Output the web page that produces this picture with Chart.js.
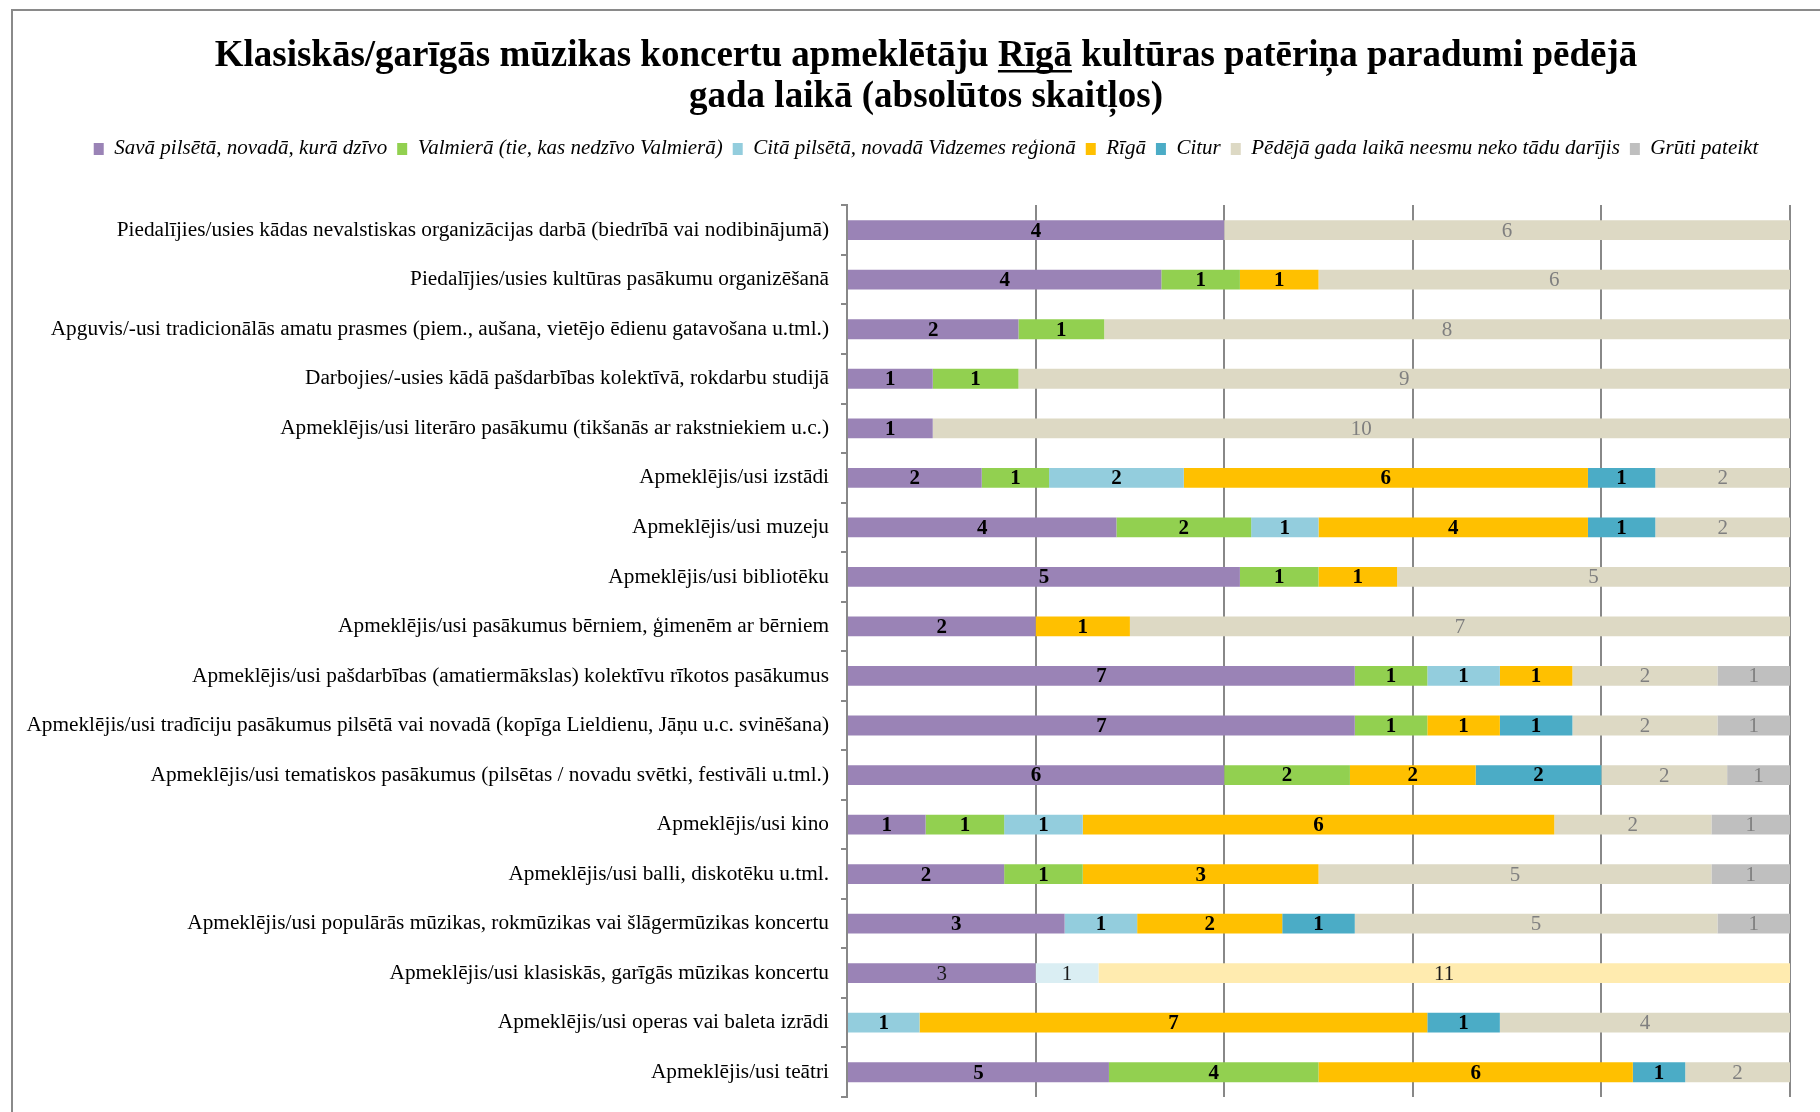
<!DOCTYPE html>
<html>
<head>
<meta charset="utf-8">
<script src="https://cdn.jsdelivr.net/npm/chart.js@4.4.1/dist/chart.umd.min.js"></script>
<style>
  html, body { margin: 0; padding: 0; background: #fff; }
  #wrap { position: relative; width: 1820px; height: 1112px; overflow: hidden; }
  #frame { position: absolute; left: 11px; top: 9px; width: 1900px; height: 1200px;
           border-top: 2px solid #8a8a8a; border-left: 2px solid #8a8a8a; }
  canvas { position: absolute; left: 0; top: 0; }
</style>
</head>
<body>
<div id="wrap">
  <div id="frame"></div>
  <canvas id="chart" width="1820" height="1112"></canvas>
</div>
<script>
// categories, top to bottom
const categories = [
    'Piedalījies/usies kādas nevalstiskas organizācijas darbā (biedrībā vai nodibinājumā)',
    'Piedalījies/usies kultūras pasākumu organizēšanā',
    'Apguvis/-usi tradicionālās amatu prasmes (piem., aušana, vietējo ēdienu gatavošana u.tml.)',
    'Darbojies/-usies kādā pašdarbības kolektīvā, rokdarbu studijā',
    'Apmeklējis/usi literāro pasākumu (tikšanās ar rakstniekiem u.c.)',
    'Apmeklējis/usi izstādi',
    'Apmeklējis/usi muzeju',
    'Apmeklējis/usi bibliotēku',
    'Apmeklējis/usi pasākumus bērniem, ģimenēm ar bērniem',
    'Apmeklējis/usi pašdarbības (amatiermākslas) kolektīvu rīkotos pasākumus',
    'Apmeklējis/usi tradīciju pasākumus pilsētā vai novadā (kopīga Lieldienu, Jāņu u.c. svinēšana)',
    'Apmeklējis/usi tematiskos pasākumus (pilsētas / novadu svētki, festivāli u.tml.)',
    'Apmeklējis/usi kino',
    'Apmeklējis/usi balli, diskotēku u.tml.',
    'Apmeklējis/usi populārās mūzikas, rokmūzikas vai šlāgermūzikas koncertu',
    'Apmeklējis/usi klasiskās, garīgās mūzikas koncertu',
    'Apmeklējis/usi operas vai baleta izrādi',
    'Apmeklējis/usi teātri'
];

const seriesNames = [
    'Savā pilsētā, novadā, kurā dzīvo',
    'Valmierā (tie, kas nedzīvo Valmierā)',
    'Citā pilsētā, novadā Vidzemes reģionā',
    'Rīgā',
    'Citur',
    'Pēdējā gada laikā neesmu neko tādu darījis',
    'Grūti pateikt'
];

// absolute counts per series (same order as categories)
const savaPilseta = [4, 4, 2, 1, 1, 2, 4, 5, 2, 7, 7, 6, 1, 2, 3, 3, 0, 5];
const valmiera    = [0, 1, 1, 1, 0, 1, 2, 1, 0, 1, 1, 2, 1, 1, 0, 0, 0, 4];
const citaPilseta = [0, 0, 0, 0, 0, 2, 1, 0, 0, 1, 0, 0, 1, 0, 1, 1, 1, 0];
const riga        = [0, 1, 0, 0, 0, 6, 4, 1, 1, 1, 1, 2, 6, 3, 2, 11, 7, 6];
const citur       = [0, 0, 0, 0, 0, 1, 1, 0, 0, 0, 1, 2, 0, 0, 1, 0, 1, 1];
const neesmu      = [6, 6, 8, 9, 10, 2, 2, 5, 7, 2, 2, 2, 2, 5, 5, 0, 4, 2];
const gruti       = [0, 0, 0, 0, 0, 0, 0, 0, 0, 1, 1, 1, 1, 1, 1, 0, 0, 0];

const counts = [savaPilseta, valmiera, citaPilseta, riga, citur, neesmu, gruti];

// the highlighted row (classical music concerts) uses pale colours
const highlightRow = 15;
const colors     = ['#9a83b6', '#92d050', '#93cddd', '#ffc000', '#4bacc6', '#ddd9c4', '#bfbfbf'];
const paleColors = ['#9a83b6', '#92d050', '#daeef3', '#ffebaf', '#4bacc6', '#ddd9c4', '#bfbfbf'];

const totals = categories.map((c, j) => counts.reduce((s, arr) => s + arr[j], 0));

const FONT = '"Liberation Serif", "Times New Roman", serif';
const TITLE_SIZE = 37;
const TITLE_LH = 1.1;
const TITLE_PAD = 36;
Chart.defaults.font.family = FONT;
Chart.defaults.color = '#000';

const datasets = seriesNames.map((name, i) => ({
    label: name,
    data: counts[i].map((v, j) => v / totals[j] * 100),
    backgroundColor: ctx => (ctx.dataIndex === highlightRow ? paleColors[i] : colors[i]),
    borderWidth: 0,
    barPercentage: 0.4,
    categoryPercentage: 1
}));

// value labels in the middle of each segment
const valueLabels = {
    id: 'valueLabels',
    afterDatasetsDraw(chart) {
        const ctx = chart.ctx;
        ctx.save();
        ctx.textAlign = 'center';
        ctx.textBaseline = 'middle';
        chart.data.datasets.forEach((ds, i) => {
            const meta = chart.getDatasetMeta(i);
            meta.data.forEach((bar, j) => {
                const v = counts[i][j];
                if (!v) return;
                if (j === highlightRow) {
                    ctx.font = '21px ' + FONT;
                    ctx.fillStyle = '#1a1a1a';
                } else if (i >= 5) {
                    ctx.font = '21px ' + FONT;
                    ctx.fillStyle = '#7f7f7f';
                } else {
                    ctx.font = 'bold 21px ' + FONT;
                    ctx.fillStyle = '#000';
                }
                ctx.fillText(String(v), (bar.x + bar.base) / 2, bar.y + 1);
            });
        });
        ctx.restore();
    }
};

// underline the word "Rīgā" in the first title line
const titleUnderline = {
    id: 'titleUnderline',
    afterDraw(chart) {
        const tb = chart.titleBlock;
        const lines = chart.options.plugins.title.text;
        const ctx = chart.ctx;
        ctx.save();
        ctx.font = 'bold ' + TITLE_SIZE + 'px ' + FONT;
        const full = ctx.measureText(lines[0]).width;
        const before = 'Klasiskās/garīgās mūzikas koncertu apmeklētāju ';
        const cx = (tb.left + tb.right) / 2;
        const x0 = cx - full / 2 + ctx.measureText(before).width;
        const w = ctx.measureText('Rīgā').width;
        const lh = TITLE_SIZE * TITLE_LH;
        const y = tb.top + TITLE_PAD + lh / 2 + 15;
        ctx.strokeStyle = '#000';
        ctx.lineWidth = 2.5;
        ctx.beginPath();
        ctx.moveTo(x0, y);
        ctx.lineTo(x0 + w, y);
        ctx.stroke();
        ctx.restore();
    }
};

new Chart(document.getElementById('chart'), {
    type: 'bar',
    data: { labels: categories, datasets: datasets },
    plugins: [valueLabels, titleUnderline],
    options: {
        indexAxis: 'y',
        responsive: false,
        animation: false,
        layout: { padding: { left: 62, right: 30, top: 0, bottom: 15 } },
        plugins: {
            title: {
                display: true,
                text: ['Klasiskās/garīgās mūzikas koncertu apmeklētāju Rīgā kultūras patēriņa paradumi pēdējā',
                       'gada laikā (absolūtos skaitļos)'],
                font: { size: TITLE_SIZE, weight: 'bold', lineHeight: TITLE_LH },
                color: '#000',
                padding: { top: TITLE_PAD, bottom: 11 }
            },
            legend: {
                position: 'top',
                labels: {
                    boxWidth: 10,
                    boxHeight: 12,
                    padding: 10,
                    color: '#000',
                    font: { size: 21, style: 'italic' }
                }
            },
            tooltip: { enabled: false }
        },
        scales: {
            x: {
                position: 'top',
                stacked: true,
                min: 0,
                max: 100,
                ticks: { display: false, stepSize: 20 },
                grid: { color: '#888', lineWidth: 2, drawTicks: true, tickLength: 36, tickColor: 'rgba(0,0,0,0)' },
                border: { display: false }
            },
            y: {
                stacked: true,
                afterFit(scale) {
                    scale.width = 847 - 62;
                    scale.paddingTop = 0;
                    scale.paddingBottom = 0;
                    // long labels reach left of the axis box, so don't clip them
                    scale._computeLabelArea = () => undefined;
                },
                ticks: { color: '#000', font: { size: 21.3 }, padding: 12, autoSkip: false },
                grid: { offset: true, drawOnChartArea: false, drawTicks: true, tickLength: 6, color: '#888', lineWidth: 2 },
                border: { display: true, color: '#888', width: 2 }
            }
        }
    }
});
</script>
</body>
</html>
